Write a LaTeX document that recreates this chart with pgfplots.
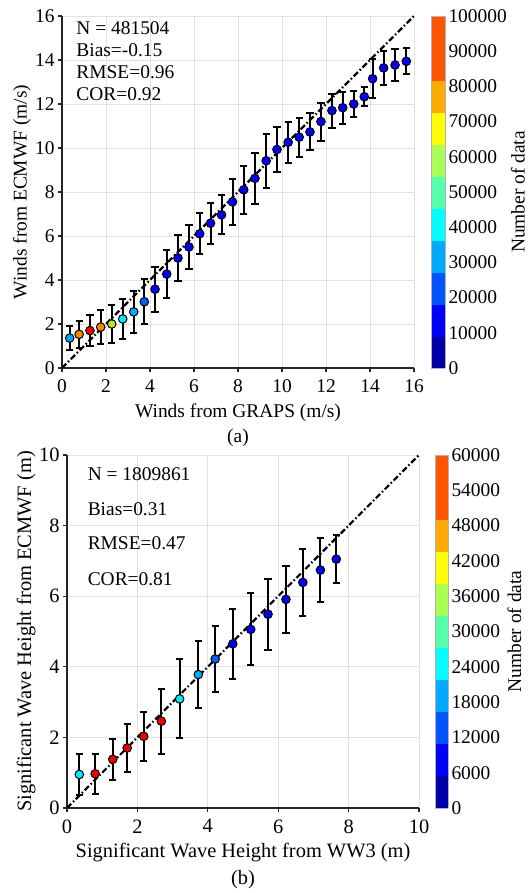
\documentclass[border=0pt]{standalone}
\usepackage{fontspec}
\setmainfont{Liberation Serif}
\usepackage{pgfplots}
\pgfplotsset{compat=1.18}
\usepackage{pgfplotstable}

\definecolor{gridgray}{RGB}{225,225,225}
\definecolor{mLB}{RGB}{0,170,255}
\definecolor{mOR}{RGB}{255,135,0}
\definecolor{mRD}{RGB}{245,0,0}
\definecolor{mYG}{RGB}{185,230,40}
\definecolor{mCY}{RGB}{0,235,250}
\definecolor{mMB}{RGB}{0,95,255}
\definecolor{mBL}{RGB}{0,0,255}

\newcommand{\fa}{\fontsize{19.5}{23}\selectfont}
\newcommand{\fb}{\fontsize{20.5}{24}\selectfont}

\pgfplotsset{
  every axis/.append style={/pgf/number format/assume math mode=true},
  jetten/.style={
    colormap={jetten}{rgb255=(0,0,170) rgb255=(0,0,255) rgb255=(0,85,255) rgb255=(0,170,255) rgb255=(0,255,255) rgb255=(85,255,170) rgb255=(170,255,85) rgb255=(255,255,0) rgb255=(255,170,0) rgb255=(255,85,0) rgb255=(255,85,0)},
    colormap access=piecewise constant,
  },
  myclasses/.style={
    scatter/classes={
      lb={mark=*,draw=black,fill=mLB},
      or={mark=*,draw=black,fill=mOR},
      rd={mark=*,draw=black,fill=mRD},
      yg={mark=*,draw=black,fill=mYG},
      cy={mark=*,draw=black,fill=mCY},
      mb={mark=*,draw=black,fill=mMB},
      bl={mark=*,draw=black,fill=mBL}
    }
  },
  mainstyle/.style={
    scale only axis,
    axis x line*=bottom, axis y line*=left,
    axis line style={-, line width=1.2bp, black!85},
    tick style={line width=1.2bp, black!85},
    tick align=outside, major tick length=4bp,
    grid=major, grid style={gridgray, line width=0.8bp},
  },
  diag/.style={black, line width=2.2bp, dash pattern=on 6bp off 2.5bp on 1.5bp off 2.5bp},
  ebars/.style={draw=none, mark=none, forget plot,
    error bars/.cd, y dir=both, y explicit,
    error bar style={draw=black, solid, line width=2bp},
    error mark=-,
    error mark options={rotate=90, draw=black, solid, line width=2bp, mark size=3.6bp}},
  dots/.style={scatter, only marks, scatter src=explicit symbolic, mark size=4.3bp,
    mark options={line width=1bp}},
}

\pgfplotstableread{
x y e c
0.35 1.36 0.55 lb
0.78 1.53 0.62 or
1.27 1.70 0.71 rd
1.76 1.86 0.79 or
2.26 2.00 0.87 yg
2.76 2.23 0.92 cy
3.26 2.55 0.94 lb
3.74 3.01 1.02 mb
4.23 3.58 1.02 bl
4.76 4.27 1.08 bl
5.27 5.00 1.04 bl
5.77 5.50 1.00 bl
6.26 6.10 0.93 bl
6.75 6.58 0.93 bl
7.25 6.96 0.89 bl
7.75 7.55 1.05 bl
8.26 8.10 1.09 bl
8.77 8.62 1.17 bl
9.28 9.42 1.23 bl
9.77 9.93 1.03 bl
10.28 10.26 0.92 bl
10.78 10.49 0.89 bl
11.27 10.73 0.84 bl
11.77 11.20 0.86 bl
12.27 11.70 0.77 bl
12.76 11.83 0.72 bl
13.26 12.00 0.60 bl
13.74 12.33 0.43 bl
14.12 13.15 0.89 bl
14.62 13.64 0.78 bl
15.14 13.77 0.72 bl
15.65 13.94 0.59 bl
}\dataA

\pgfplotstableread{
x y e c
0.35 0.95 0.58 cy
0.80 0.97 0.56 rd
1.30 1.38 0.58 rd
1.71 1.70 0.69 rd
2.18 2.03 0.69 rd
2.68 2.46 0.92 rd
3.20 3.09 1.12 cy
3.73 3.78 0.94 lb
4.21 4.22 0.93 mb
4.71 4.65 1.00 bl
5.22 5.06 1.02 bl
5.71 5.49 1.01 bl
6.22 5.91 0.95 bl
6.70 6.39 0.96 bl
7.20 6.74 0.91 bl
7.65 7.05 0.68 bl
}\dataB

\begin{document}
\begin{tikzpicture}[x=1bp,y=1bp]
\path[use as bounding box] (0,0) rectangle (530,893);

% ---------------- panel (a)
\begin{axis}[
  name=A,
  mainstyle, jetten, myclasses,
  at={(62bp,525bp)}, anchor=south west,
  width=352bp, height=352bp,
  xmin=0, xmax=16, ymin=0, ymax=16,
  xtick={0,2,4,6,8,10,12,14,16}, ytick={0,2,4,6,8,10,12,14,16},
  font=\fa,
  xticklabel style={yshift=-4.5bp},
  xlabel={Winds from GRAPS (m/s)},
  ylabel={Winds from ECMWF (m/s)},
  xlabel style={at={(axis description cs:0.5,-0.128)}, anchor=center},
  ylabel style={at={(axis description cs:-0.114,0.5)}, anchor=center},
  point meta min=0, point meta max=100000,
  colorbar,
  colorbar shift/.style={xshift=17bp},
  colorbar style={
    at={(parent axis.north east)}, anchor=north west,
    scale only axis, width=14bp, height=352bp,
    font=\fa,
    scaled y ticks=false,
    ytick={0,10000,20000,30000,40000,50000,60000,70000,80000,90000,100000},
    yticklabels={0,10000,20000,30000,40000,50000,60000,70000,80000,90000,100000},
    major tick length=0pt,
    axis line style={draw=gray!60, line width=0.6bp},
    ylabel={Number of data},
    ylabel style={at={(axis description cs:6.2,0.5)}, anchor=center, inner sep=0pt},
  },
]
\addplot[diag] coordinates {(0,0) (16,16)};
\addplot[ebars] table[x=x, y=y, y error=e]{\dataA};
\addplot[dots] table[x=x, y=y, meta=c]{\dataA};
\node[anchor=base west, font=\fa] at (axis description cs:0.031,0.946) {N = 481504};
\node[anchor=base west, font=\fa] at (axis description cs:0.031,0.884) {Bias=-0.15};
\node[anchor=base west, font=\fa] at (axis description cs:0.031,0.823) {RMSE=0.96};
\node[anchor=base west, font=\fa] at (axis description cs:0.031,0.761) {COR=0.92};
\end{axis}
\node[anchor=center, font=\fa] at ([yshift=-70bp]A.south) {(a)};

% ---------------- panel (b)
\begin{axis}[
  name=B,
  mainstyle, jetten, myclasses,
  at={(67bp,85bp)}, anchor=south west,
  width=352bp, height=353bp,
  xmin=0, xmax=10, ymin=0, ymax=10,
  xtick={0,2,4,6,8,10}, ytick={0,2,4,6,8,10},
  font=\fb,
  xticklabel style={yshift=-4bp},
  xlabel={Significant Wave Height from WW3 (m)},
  ylabel={Significant Wave Height from ECMWF (m)},
  xlabel style={at={(axis description cs:0.5,-0.127)}, anchor=center},
  ylabel style={at={(axis description cs:-0.116,0.5)}, anchor=center},
  point meta min=0, point meta max=60000,
  colorbar,
  colorbar shift/.style={xshift=16bp},
  colorbar style={
    at={(parent axis.north east)}, anchor=north west,
    scale only axis, width=13bp, height=353bp,
    font=\fa,
    scaled y ticks=false,
    ytick={0,6000,12000,18000,24000,30000,36000,42000,48000,54000,60000},
    yticklabels={0,6000,12000,18000,24000,30000,36000,42000,48000,54000,60000},
    major tick length=0pt,
    axis line style={draw=gray!60, line width=0.6bp},
    ylabel={Number of data},
    ylabel style={at={(axis description cs:6.1,0.5)}, anchor=center, inner sep=0pt},
  },
]
\addplot[diag] coordinates {(0,0) (10,10)};
\addplot[ebars] table[x=x, y=y, y error=e]{\dataB};
\addplot[dots] table[x=x, y=y, meta=c]{\dataB};
\node[anchor=base west, font=\fa] at (axis description cs:0.049,0.929) {N = 1809861};
\node[anchor=base west, font=\fa] at (axis description cs:0.049,0.830) {Bias=0.31};
\node[anchor=base west, font=\fa] at (axis description cs:0.049,0.731) {RMSE=0.47};
\node[anchor=base west, font=\fa] at (axis description cs:0.049,0.630) {COR=0.81};
\end{axis}
\node[anchor=center, font=\fb] at ([yshift=-72bp]B.south) {(b)};
\end{tikzpicture}
\end{document}
